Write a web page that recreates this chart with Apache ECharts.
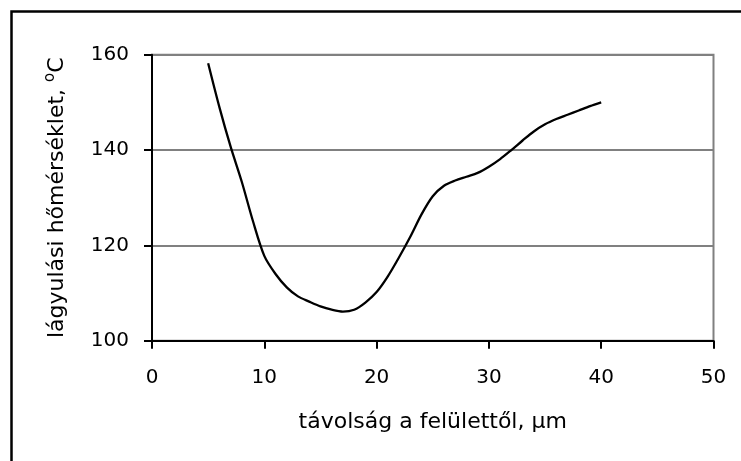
<!DOCTYPE html>
<html>
<head>
<meta charset="utf-8">
<script src="https://cdn.jsdelivr.net/npm/echarts@6/dist/echarts.min.js"></script>
<style>
  html, body { margin: 0; padding: 0; background: #fff; }
  #chart { width: 741px; height: 461px; }
</style>
</head>
<body>
<div id="chart"></div>
<script>
// távolság (µm) és lágyulási hőmérséklet (°C)
const distance = [5, 6, 7, 8, 9, 10, 11, 12, 13, 14, 15, 16, 17, 18, 19, 20, 21, 22, 23, 24, 25, 26, 27, 28, 29, 30, 31, 32, 33, 34, 35, 36, 37, 38, 39, 40];
const softening = [158.2, 149, 140.7, 133.3, 125, 117.8, 114, 111.2, 109.3, 108.2, 107.2, 106.5, 106.1, 106.5, 108, 110.2, 113.5, 117.5, 121.8, 126.5, 130.3, 132.5, 133.6, 134.4, 135.2, 136.5, 138.1, 140, 142, 143.9, 145.4, 146.5, 147.4, 148.3, 149.2, 150];

const xTicks = [0, 10, 20, 30, 40, 50];
const yTicks = [100, 120, 140, 160];

const font = 'DejaVu Sans';

const getOptions = () => {
  return {
    animation: false,
    textStyle: { fontFamily: font, color: '#000' },
    grid: {
      left: 152,
      right: 27.5,
      top: 54.7,
      bottom: 120.3,
      show: true,
      borderColor: '#808080',
      borderWidth: 2
    },
    graphic: [
      {
        type: 'rect',
        shape: { x: 11.5, y: 11.5, width: 800, height: 500 },
        style: { fill: 'none', stroke: '#000', lineWidth: 2.5 }
      }
    ],
    xAxis: {
      type: 'value',
      min: xTicks[0],
      max: xTicks[xTicks.length - 1],
      interval: 10,
      name: 'távolság a felülettől, µm',
      nameLocation: 'middle',
      nameGap: 71,
      nameTextStyle: { fontSize: 22, color: '#000', fontFamily: font },
      axisLine: { lineStyle: { color: '#000', width: 2 } },
      axisTick: { length: 8, lineStyle: { color: '#000', width: 2 } },
      axisLabel: { fontSize: 20, color: '#000', margin: 27, fontFamily: font },
      splitLine: { show: false }
    },
    yAxis: {
      type: 'value',
      min: yTicks[0],
      max: yTicks[yTicks.length - 1],
      interval: 20,
      name: 'lágyulási hőmérséklet, {sup|o}C',
      nameLocation: 'middle',
      nameGap: 81,
      nameTextStyle: {
        fontSize: 22,
        color: '#000',
        fontFamily: font,
        rich: {
          sup: { fontSize: 15, fontFamily: font, color: '#000', padding: [0, 0, 13, 0] }
        }
      },
      axisLine: { show: true, lineStyle: { color: '#000', width: 2 } },
      axisTick: { show: true, length: 8, lineStyle: { color: '#000', width: 2 } },
      axisLabel: { fontSize: 20, color: '#000', margin: 23, fontFamily: font },
      splitLine: { show: true, lineStyle: { color: '#808080', width: 2 } }
    },
    series: [
      {
        type: 'line',
        data: distance.map((d, i) => [d, softening[i]]),
        smooth: 0.3,
        showSymbol: false,
        lineStyle: { color: '#000', width: 2.3 }
      }
    ]
  };
};

window.addEventListener('load', () => {
  const chart = echarts.init(document.getElementById('chart'));
  chart.setOption(getOptions());
});
</script>
</body>
</html>
